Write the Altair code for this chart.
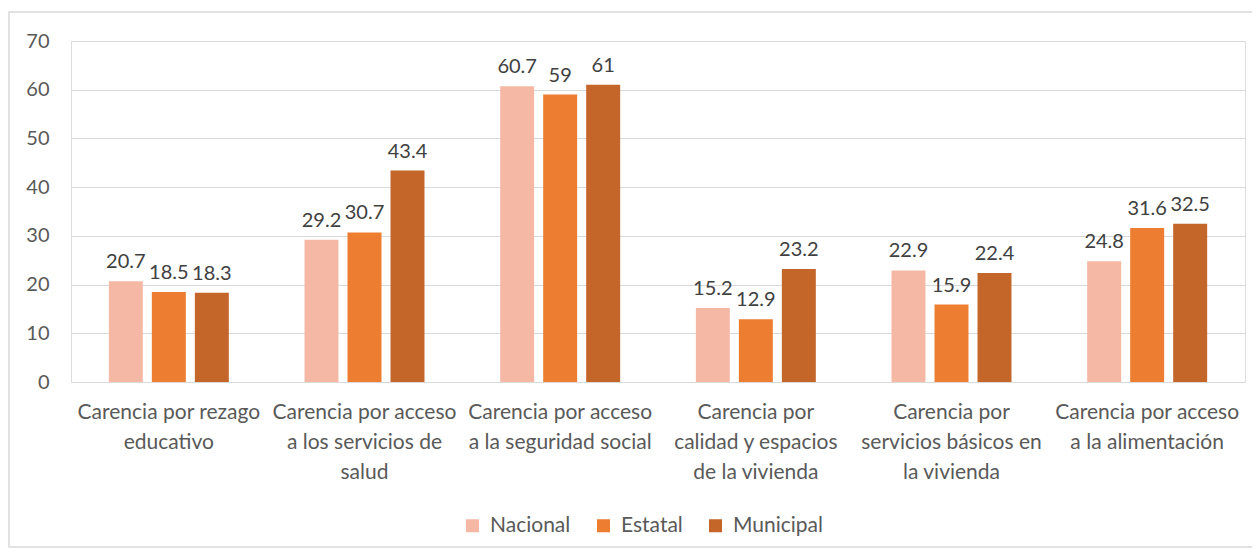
import altair as alt
import pandas as pd

categories = [
    "Carencia por rezago\neducativo",
    "Carencia por acceso\na los servicios de\nsalud",
    "Carencia por acceso\na la seguridad social",
    "Carencia por\ncalidad y espacios\nde la vivienda",
    "Carencia por\nservicios básicos en\nla vivienda",
    "Carencia por acceso\na la alimentación",
]
series = ["Nacional", "Estatal", "Municipal"]
nacional = [20.7, 29.2, 60.7, 15.2, 22.9, 24.8]
estatal = [18.5, 30.7, 59, 12.9, 15.9, 31.6]
municipal = [18.3, 43.4, 61, 23.2, 22.4, 32.5]
colors = ["#F4B8A4", "#ED7D31", "#C4652A"]
y_ticks = [0, 10, 20, 30, 40, 50, 60, 70]

rows = []
for i, c in enumerate(categories):
    for s, vals in zip(series, [nacional, estatal, municipal]):
        rows.append({"cat": c, "serie": s, "valor": vals[i]})
df = pd.DataFrame(rows)

FONT = "Lato"
W, H = 1174, 341

x = alt.X("cat:N", sort=categories, title=None,
          scale=alt.Scale(paddingInner=0, paddingOuter=0),
          axis=alt.Axis(labelAngle=0, labelExpr="split(datum.label, '\\n')",
                        labelFontSize=21, labelColor="#595959", labelFont=FONT,
                        labelLineHeight=30, labelPadding=19, labelBaseline="top",
                        ticks=False, domain=False, grid=False, labelLimit=0))
xo = alt.XOffset("serie:N", sort=series,
                 scale=alt.Scale(paddingInner=0.21, paddingOuter=0.88))
y = alt.Y("valor:Q", title=None,
          scale=alt.Scale(domain=[0, 70], nice=False),
          axis=alt.Axis(values=y_ticks, labelFontSize=20, labelColor="#595959",
                        labelFont=FONT, labelPadding=22, ticks=False, domain=False,
                        grid=True, gridColor="#D9D9D9", gridWidth=1))

base = alt.Chart(df)

bars = base.mark_bar().encode(
    x=x, xOffset=xo, y=y,
    color=alt.Color("serie:N", sort=series,
                    scale=alt.Scale(domain=series, range=colors),
                    legend=alt.Legend(title=None, orient="none", direction="horizontal",
                                      legendX=391, legendY=474,
                                      labelFontSize=21, labelColor="#595959", labelFont=FONT,
                                      symbolType="square", symbolSize=170,
                                      symbolStrokeWidth=0, columnPadding=22,
                                      labelOffset=7)),
)

labels = base.mark_text(baseline="bottom", dy=-9, fontSize=20, font=FONT,
                        color="#404040").encode(
    x=x, xOffset=xo, y=y, text=alt.Text("valor:Q"),
)

border = alt.Chart(pd.DataFrame({"a": [0]})).mark_rect(
    fill=None, stroke="#D9D9D9", strokeWidth=1.5, clip=False
).encode(
    x=alt.value(-62), x2=alt.value(W + 8),
    y=alt.value(-29), y2=alt.value(H + 165),
)

chart = alt.layer(border, bars, labels).properties(
    width=W, height=H,
    autosize=alt.AutoSizeParams(type="none"),
    padding={"left": 63, "top": 33, "right": 7, "bottom": 166},
).configure_view(stroke=None).configure(background="white")

chart.save("out.html", embed_options={"renderer": "svg", "actions": False})
